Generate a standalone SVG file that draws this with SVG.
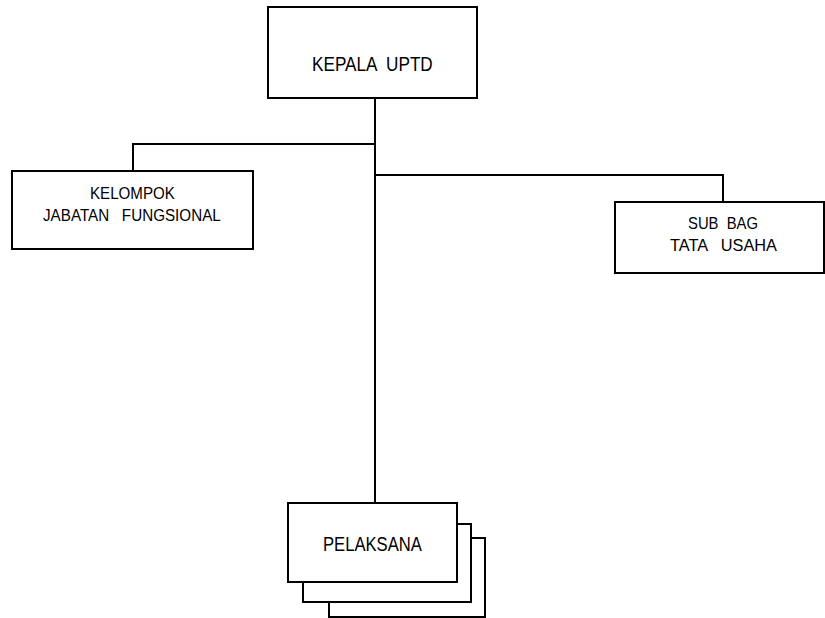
<svg xmlns="http://www.w3.org/2000/svg" width="825" height="618" viewBox="0 0 825 618">
<style>
.box{fill:#fff;stroke:#000;stroke-width:2}
.ln{fill:none;stroke:#000;stroke-width:2}
text{font-family:"Liberation Sans",Arial,sans-serif;fill:#000;white-space:pre}
.big{font-size:20px}
.sm{font-size:17px}
</style>
<rect width="825" height="618" fill="#fff"/>
<g id="connectors">
<path class="ln" d="M375,98 V503"/>
<path class="ln" d="M375,144 H133 V171"/>
<path class="ln" d="M375,175 H723 V202"/>
</g>
<g id="kepala">
<rect class="box" x="268" y="7" width="209" height="91"/>
<text class="big" transform="translate(312,71) scale(0.858,1)">KEPALA  UPTD</text>
</g>
<g id="kelompok">
<rect class="box" x="12" y="171" width="241" height="78"/>
<text class="sm" transform="translate(90,199) scale(0.89,1)">KELOMPOK</text>
<text class="sm" transform="translate(43,221) scale(0.895,1)">JABATAN   FUNGSIONAL</text>
</g>
<g id="subbag">
<rect class="box" x="615" y="202" width="209" height="71"/>
<text class="sm" x="688" y="229" textLength="70" lengthAdjust="spacingAndGlyphs">SUB  BAG</text>
<text class="sm" x="670" y="251" textLength="107" lengthAdjust="spacingAndGlyphs">TATA   USAHA</text>
</g>
<g id="pelaksana">
<rect class="box" x="329" y="538" width="156" height="79"/>
<rect class="box" x="303" y="524" width="168" height="78"/>
<rect class="box" x="288" y="503" width="169" height="79"/>
<text class="big" transform="translate(323,551) scale(0.832,1)">PELAKSANA</text>
</g>
</svg>
